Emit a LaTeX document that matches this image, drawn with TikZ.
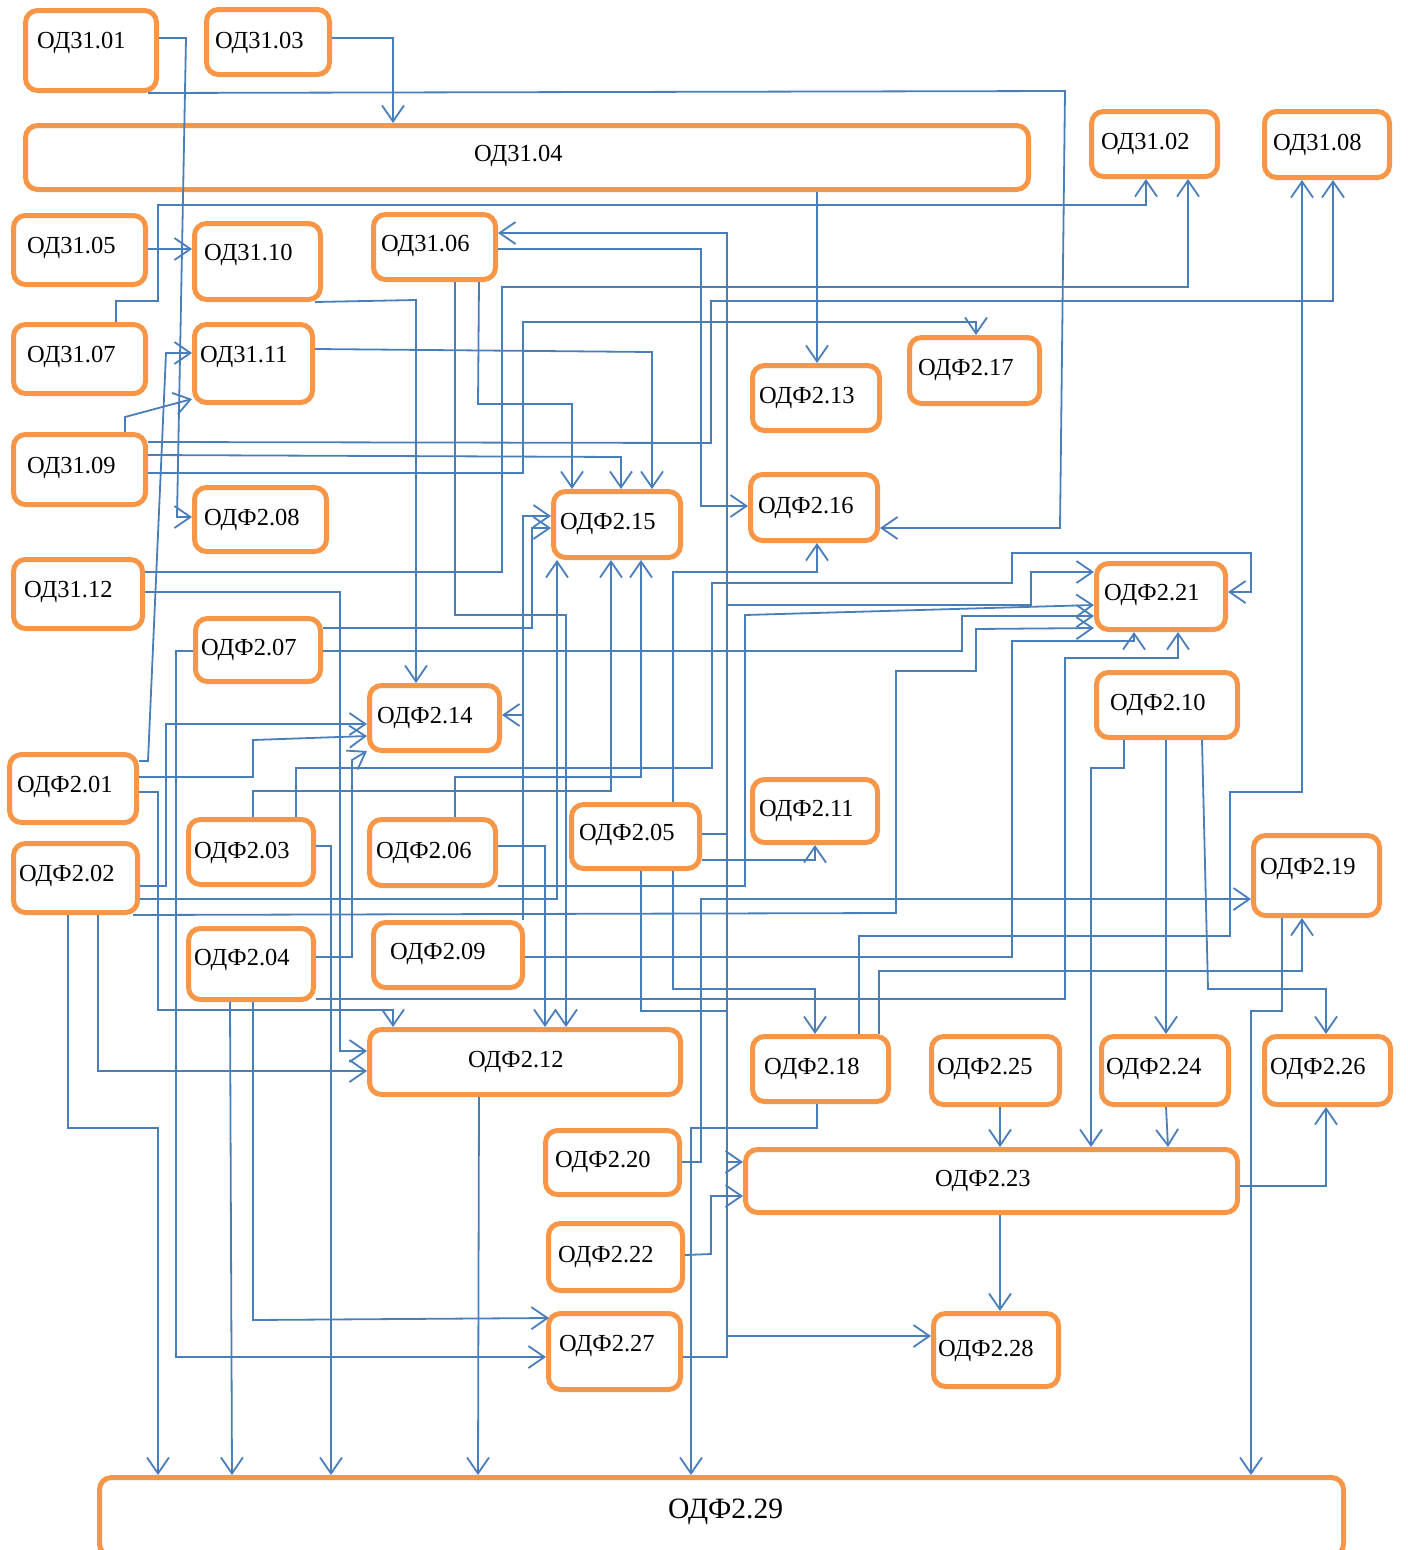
\documentclass[tikz,border=0pt]{standalone}
\usepackage{fontspec}
\setmainfont{Liberation Serif}
\usetikzlibrary{arrows.meta,fit}
\definecolor{borange}{HTML}{F79646}
\definecolor{lblue}{HTML}{4A7EBB}
\tikzset{
  box/.style={draw=borange, line width=5pt, rounded corners=12pt, inner sep=0pt, fill=white},
  lbl/.style={anchor=base west, inner sep=0pt, font=\fontsize{24.5}{29}\selectfont},
  link/.style={draw=lblue, line width=1.8pt},
  arr/.style={link, -{Straight Barb[length=16pt,width=22pt]}},
}
\newcommand{\mkbox}[8]{%
  \node[box, fit={(#2+2.5,#3+2.5) (#4-2.5,#5-2.5)}] (#1) {};
  \node[lbl] (#1t) at (#6,#7+8) {#8};}
\begin{document}
\begin{tikzpicture}[x=1pt,y=-1pt]
\useasboundingbox (0,0) rectangle (1408,1550);
\clip (0,0) rectangle (1408,1550);
% boxes
\mkbox{o101}{23}{8}{159}{93}{37}{40}{ОД31.01}
\mkbox{o103}{204}{7}{332}{77}{215}{40}{ОД31.03}
\mkbox{o104}{23}{123}{1031}{192}{474}{153}{ОД31.04}
\mkbox{o105}{11}{213}{148}{287}{27}{245}{ОД31.05}
\mkbox{o110}{192}{221}{323}{302}{204}{252}{ОД31.10}
\mkbox{o106}{371}{212}{498}{282}{381}{243}{ОД31.06}
\mkbox{o107}{11}{322}{148}{396}{27}{354}{ОД31.07}
\mkbox{o111}{192}{322}{315}{405}{200}{354}{ОД31.11}
\mkbox{f213}{750}{363}{882}{433}{759}{395}{ОДФ2.13}
\mkbox{f217}{907}{335}{1042}{406}{918}{367}{ОДФ2.17}
\mkbox{o102}{1089}{109}{1220}{179}{1101}{141}{ОД31.02}
\mkbox{o108}{1262}{109}{1392}{180}{1273}{142}{ОД31.08}
\mkbox{o109}{11}{432}{148}{507}{27}{465}{ОД31.09}
\mkbox{f208}{192}{485}{329}{554}{204}{517}{ОДФ2.08}
\mkbox{o112}{11}{557}{145}{631}{24}{589}{ОД31.12}
\mkbox{f207}{193}{616}{323}{684}{201}{647}{ОДФ2.07}
\mkbox{f214}{367}{683}{502}{753}{377}{715}{ОДФ2.14}
\mkbox{f201}{7}{752}{139}{825}{17}{784}{ОДФ2.01}
\mkbox{f215}{551}{489}{683}{560}{560}{521}{ОДФ2.15}
\mkbox{f216}{748}{472}{880}{543}{758}{505}{ОДФ2.16}
\mkbox{f211}{750}{777}{880}{845}{759}{808}{ОДФ2.11}
\mkbox{f221}{1094}{561}{1228}{632}{1104}{592}{ОДФ2.21}
\mkbox{f210}{1094}{670}{1240}{740}{1110}{702}{ОДФ2.10}
\mkbox{f202}{11}{841}{140}{915}{19}{873}{ОДФ2.02}
\mkbox{f203}{186}{817}{316}{887}{194}{850}{ОДФ2.03}
\mkbox{f206}{367}{817}{498}{888}{376}{850}{ОДФ2.06}
\mkbox{f204}{186}{926}{316}{1002}{194}{957}{ОДФ2.04}
\mkbox{f209}{371}{920}{525}{990}{390}{951}{ОДФ2.09}
\mkbox{f212}{367}{1027}{683}{1097}{468}{1059}{ОДФ2.12}
\mkbox{f205}{569}{802}{702}{871}{579}{832}{ОДФ2.05}
\mkbox{f218}{750}{1034}{891}{1104}{764}{1066}{ОДФ2.18}
\mkbox{f220}{543}{1128}{682}{1197}{555}{1159}{ОДФ2.20}
\mkbox{f223}{743}{1147}{1240}{1215}{935}{1178}{ОДФ2.23}
\mkbox{f219}{1251}{833}{1382}{918}{1260}{866}{ОДФ2.19}
\mkbox{f225}{929}{1034}{1062}{1107}{937}{1066}{ОДФ2.25}
\mkbox{f224}{1099}{1034}{1231}{1107}{1106}{1066}{ОДФ2.24}
\mkbox{f226}{1262}{1034}{1393}{1107}{1270}{1066}{ОДФ2.26}
\mkbox{f222}{546}{1221}{685}{1293}{558}{1254}{ОДФ2.22}
\mkbox{f227}{546}{1311}{683}{1392}{559}{1343}{ОДФ2.27}
\mkbox{f228}{931}{1311}{1061}{1389}{938}{1348}{ОДФ2.28}
\node[box, fit={(99.5,1477.5) (1343.5,1556)}] (f229) {};
\node[lbl, font=\fontsize{29.5}{35}\selectfont] (f229t) at (668,1518) {ОДФ2.29};
% connectors
\draw[arr] (o101.east|-0,38) -- (186,38) -- (177,517) -- (f208.west|-0,517);
\draw[arr] (148,0|-o101.south) -- (1065,91) -- (1060,528) -- (f216.east|-0,528);
\draw[arr] (o103.east|-0,38) -- (393,38) -- (393,0|-o104.north);
\draw[arr] (817,0|-o104.south) -- (817,0|-f213.north);
\draw[arr] (116,0|-o107.north) -- (116,301) -- (158,301) -- (158,205) -- (1146,205) -- (1146,0|-o102.south);
\draw[arr] (o105.east|-0,249) -- (o110.west|-0,249);
\draw[arr] (315,0|-o110.south) -- (416,300) -- (416,0|-f214.north);
\draw[arr] (o106.east|-0,249) -- (701,249) -- (701,506) -- (f216.west|-0,506);
\draw[arr] (f227.east|-0,1357) -- (727,1357) -- (727,233) -- (o106.east|-0,233);
\draw[arr] (727,1336) -- (f228.west|-0,1336);
\draw[arr] (727,1162) -- (f223.west|-0,1162);
\draw[link] (f205.east|-0,834) -- (727,834);
\draw[arr] (727,605) -- (1031,605) -- (1031,572) -- (f221.west|-0,572);
\draw[link] (641,0|-f205.south) -- (641,1011) -- (727,1011);
\draw[arr] (455,0|-o106.south) -- (455,615) -- (566,615) -- (566,0|-f212.north);
\draw[arr] (479,0|-o106.south) -- (478,404) -- (572,404) -- (572,0|-f215.north);
\draw[arr] (o111.east|-0,349) -- (652,352) -- (652,0|-f215.north);
\draw[arr] (o109.east|-0,442) -- (711,443) -- (711,301) -- (1333,301) -- (1333,0|-o108.south);
\draw[arr] (o109.east|-0,455) -- (621,457) -- (621,0|-f215.north);
\draw[arr] (o109.east|-0,473) -- (523,473) -- (523,322) -- (976,322) -- (976,0|-f217.north);
\draw[arr] (125,0|-o109.north) -- (125,417) -- ([shift={(0,-6)}]o111.south west);
\draw[arr] (f201.east|-0,761) -- (148,761) -- (166,353) -- (o111.west|-0,353);
\draw[arr] (o112.east|-0,572) -- (502,572) -- (502,287) -- (1188,287) -- (1188,0|-o102.south);
\draw[arr] (o112.east|-0,592) -- (340,592) -- (340,1051) -- (f212.west|-0,1051);
\draw[arr] (f207.east|-0,628) -- (532,628) -- (532,528) -- (f215.west|-0,528);
\draw[arr] (523,0|-f209.north) -- (523,516) -- (f215.west|-0,516);
\draw[arr] (523,715) -- (f214.east|-0,715);
\draw[arr] (f207.east|-0,651) -- (962,651) -- (962,616) -- (f221.west|-0,616);
\draw[arr] (296,0|-f203.north) -- (296,768) -- (712,768) -- (712,583) -- (1012,583) -- (1012,553) -- (1251,553) -- (1251,592) -- (f221.east|-0,592);
\draw[arr] (133,0|-f202.south) -- (896,913) -- (896,671) -- (976,671) -- (976,629) -- (f221.west|-0,628);
\draw[arr] (f209.east|-0,957) -- (1012,957) -- (1012,641) -- (1134,641) -- (1134,0|-f221.south);
\draw[arr] (f204.east|-0,999) -- (1065,999) -- (1065,658) -- (1178,658) -- (1178,0|-f221.south);
\draw[arr] (f206.east|-0,886) -- (745,886) -- (745,615) -- (f221.west|-0,605);
\draw[arr] (1124,0|-f210.south) -- (1124,768) -- (1091,768) -- (1091,0|-f223.north);
\draw[arr] (1166,0|-f210.south) -- (1166,0|-f224.north);
\draw[arr] (1202,0|-f210.south) -- (1208,989) -- (1326,989) -- (1326,0|-f226.north);
\draw[arr] (1282,0|-f219.south) -- (1282,1011) -- (1251,1011) -- (1251,0|-f229.north);
\draw[arr] (1000,0|-f225.south) -- (1000,0|-f223.north);
\draw[arr] (1166,0|-f224.south) -- (1168,0|-f223.north);
\draw[arr] (f223.east|-0,1186) -- (1326,1186) -- (1326,0|-f226.south);
\draw[arr] (1000,0|-f223.south) -- (1000,0|-f228.north);
\draw[arr] (f222.east|-0,1255) -- (711,1254) -- (711,1196) -- (f223.west|-0,1196);
\draw[arr] (817,0|-f218.south) -- (817,1128) -- (691,1128) -- (691,0|-f229.north);
\draw[arr] (f220.east|-0,1162) -- (701,1162) -- (701,899) -- (f219.west|-0,899);
\draw[arr] (859,0|-f218.north) -- (859,936) -- (1230,936) -- (1230,792) -- (1302,792) -- (1302,0|-o108.south);
\draw[arr] (879,0|-f218.north) -- (879,971) -- (1302,971) -- (1302,0|-f219.south);
\draw[arr] (673,0|-f205.north) -- (673,572) -- (817,572) -- (817,0|-f216.south);
\draw[arr] (f205.east|-0,860) -- (815,860) -- (815,0|-f211.south);
\draw[arr] (673,0|-f205.south) -- (673,989) -- (815,989) -- (815,0|-f218.north);
\draw[arr] (455,0|-f206.north) -- (455,777) -- (641,777) -- (641,0|-f215.south);
\draw[arr] (f206.east|-0,846) -- (545,846) -- (545,0|-f212.north);
\draw[arr] (253,0|-f203.north) -- (253,791) -- (611,791) -- (611,0|-f215.south);
\draw[arr] (f202.east|-0,899) -- (557,899) -- (557,0|-f215.south);
\draw[arr] (f202.east|-0,886) -- (166,886) -- (166,724) -- (f214.west|-0,724);
\draw[arr] (f201.east|-0,777) -- (253,777) -- (253,740) -- (f214.west|-0,736);
\draw[arr] (f204.east|-0,957) -- (352,957) -- (352,760) -- (f214.west|-0,751);
\draw[arr] (f201.east|-0,792) -- (158,792) -- (158,1010) -- (393,1010) -- (393,0|-f212.north);
\draw[arr] (f207.west|-0,651) -- (176,651) -- (176,1357) -- (f227.west|-0,1357);
\draw[arr] (253,0|-f204.south) -- (253,1320) -- ([shift={(3,7)}]f227.north west);
\draw[arr] (230,0|-f204.south) -- (232,0|-f229.north);
\draw[arr] (68,0|-f202.south) -- (68,1128) -- (158,1128) -- (158,0|-f229.north);
\draw[arr] (f203.east|-0,846) -- (331,846) -- (331,0|-f229.north);
\draw[arr] (479,0|-f212.south) -- (478,0|-f229.north);
\draw[arr] (98,0|-f202.south) -- (98,1071) -- (f212.west|-0,1071);
\end{tikzpicture}
\end{document}
